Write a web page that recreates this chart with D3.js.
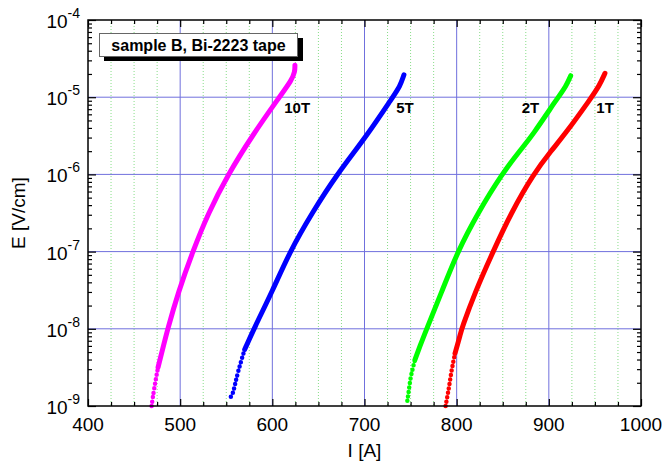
<!DOCTYPE html>
<html>
<head>
<meta charset="utf-8">
<script src="https://cdn.jsdelivr.net/npm/d3@7/dist/d3.min.js"></script>
<style>
  body { margin: 0; background: #fff; }
  svg { display: block; font-family: "Liberation Sans", Arial, sans-serif; }
</style>
</head>
<body>
<svg id="chart" width="665" height="466"></svg>
<script>
/* DATA */
const seriesNames = ['10T', '5T', '2T', '1T'];
const seriesColors = ['#ff00ff', '#0000ff', '#00ff00', '#ff0000'];

const current10T = [469, 471.6, 476, 480, 486.5, 498, 513.6, 530.5, 552, 577.6, 607.5, 621, 624.5, 624.5];
const field10T   = [1.0e-9, 1.66e-9, 3.16e-9, 4.9e-9, 1.0e-8, 3.0e-8, 1.0e-7, 3.16e-7, 1.0e-6, 3.1e-6, 1.0e-5, 1.66e-5, 2.14e-5, 2.6e-5];

const current5T = [555, 557.5, 562, 570, 580, 600.5, 619, 643, 670, 702, 730.5, 738.5, 742.8];
const field5T   = [1.32e-9, 1.45e-9, 2.63e-9, 5.4e-9, 1.0e-8, 3.16e-8, 1.0e-7, 3.16e-7, 1.0e-6, 3.1e-6, 1.0e-5, 1.38e-5, 1.95e-5];

const current2T = [746.5, 748.2, 750, 754.8, 760, 767.5, 783.7, 801, 823, 848.8, 869.5, 881.4, 910, 918.6, 923.7];
const field2T   = [1.17e-9, 1.62e-9, 2.4e-9, 4.0e-9, 5.9e-9, 1.0e-8, 3.0e-8, 1.0e-7, 3.16e-7, 1.0e-6, 2.1e-6, 3.1e-6, 1.0e-5, 1.38e-5, 1.9e-5];

const current1T = [788, 789.8, 791.7, 794.5, 798.2, 804.3, 805.4, 820, 839.5, 859, 883, 903.5, 915.7, 946.5, 954.8, 960.9];
const field1T   = [1.0e-9, 1.32e-9, 1.74e-9, 2.95e-9, 4.8e-9, 8.7e-9, 1.0e-8, 3.0e-8, 1.0e-7, 3.16e-7, 1.0e-6, 2.1e-6, 3.1e-6, 1.0e-5, 1.41e-5, 2.04e-5];

const xTicks = [400, 500, 600, 700, 800, 900, 1000];
const yDecades = [-9, -8, -7, -6, -5, -4];
const legendText = 'sample B, Bi-2223 tape';

/* LAYOUT */
const plotL = 88, plotR = 641, plotT = 20, plotB = 406;
const font = 19;

const svg = d3.select('#chart');

const x = d3.scaleLinear().domain([400, 1000]).range([plotL, plotR]);
const y = d3.scaleLog().domain([1e-9, 1e-4]).range([plotB, plotT]);

/* GRID */
const minorX = d3.range(400, 1001, 25).filter(d => d % 100 != 0);
svg.append('g').selectAll('line').data(minorX).join('line')
  .attr('x1', d => x(d)).attr('x2', d => x(d))
  .attr('y1', plotT).attr('y2', plotB)
  .attr('stroke', '#88dd88')
  .attr('stroke-width', 1)
  .attr('stroke-dasharray', '1,2');

svg.append('g').selectAll('line').data(xTicks.slice(1, -1)).join('line')
  .attr('x1', d => x(d)).attr('x2', d => x(d))
  .attr('y1', plotT).attr('y2', plotB)
  .attr('stroke', '#7070dd')
  .attr('stroke-width', 1);

svg.append('g').selectAll('line').data(yDecades.slice(1, -1)).join('line')
  .attr('x1', plotL).attr('x2', plotR)
  .attr('y1', d => y(Math.pow(10, d))).attr('y2', d => y(Math.pow(10, d)))
  .attr('stroke', '#7070dd')
  .attr('stroke-width', 1);

/* AXES - ticks pointing inside on all four sides */
const minorY = [];
yDecades.slice(0, -1).forEach(function(d){
  for (let k = 2; k <= 9; k++) minorY.push(k * Math.pow(10, d));
});
const majorY = yDecades.map(d => Math.pow(10, d));

function tickAxis(axis, transform){
  const g = svg.append('g').attr('transform', transform).call(axis);
  g.select('.domain').remove();
  g.selectAll('text').remove();
  g.selectAll('line').attr('stroke', '#000').attr('stroke-width', 1.2);
}
tickAxis(d3.axisBottom(x).tickValues(minorX).tickSize(-4).tickSizeOuter(0), `translate(0,${plotB})`);
tickAxis(d3.axisBottom(x).tickValues(xTicks).tickSize(-7).tickSizeOuter(0), `translate(0,${plotB})`);
tickAxis(d3.axisTop(x).tickValues(minorX).tickSize(-4).tickSizeOuter(0), `translate(0,${plotT})`);
tickAxis(d3.axisTop(x).tickValues(xTicks).tickSize(-7).tickSizeOuter(0), `translate(0,${plotT})`);
tickAxis(d3.axisLeft(y).tickValues(minorY).tickSize(-4).tickSizeOuter(0), `translate(${plotL},0)`);
tickAxis(d3.axisLeft(y).tickValues(majorY).tickSize(-8).tickSizeOuter(0), `translate(${plotL},0)`);
tickAxis(d3.axisRight(y).tickValues(minorY).tickSize(-4).tickSizeOuter(0), `translate(${plotR},0)`);
tickAxis(d3.axisRight(y).tickValues(majorY).tickSize(-8).tickSizeOuter(0), `translate(${plotR},0)`);

/* TICK LABELS */
svg.append('g').selectAll('text').data(xTicks).join('text')
  .attr('x', d => x(d))
  .attr('y', 431)
  .attr('text-anchor', 'middle')
  .attr('font-size', font)
  .text(d => d);

const yLab = svg.append('g').selectAll('text').data(yDecades).join('text')
  .attr('x', 80)
  .attr('y', d => y(Math.pow(10, d)) + 8)
  .attr('text-anchor', 'end')
  .attr('font-size', font);
yLab.append('tspan').text('10');
yLab.append('tspan').attr('dy', -10).attr('font-size', 14).text(d => d);

/* AXIS TITLES */
svg.append('text')
  .attr('x', (plotL + plotR) / 2).attr('y', 457)
  .attr('text-anchor', 'middle')
  .attr('font-size', font)
  .text('I [A]');
svg.append('text')
  .attr('transform', `translate(25,${(plotT + plotB) / 2}) rotate(-90)`)
  .attr('text-anchor', 'middle')
  .attr('font-size', font)
  .text('E [V/cm]');

/* CURVES */
const allSeries = [
  {I: current10T, E: field10T},
  {I: current5T, E: field5T},
  {I: current2T, E: field2T},
  {I: current1T, E: field1T}
];
const line = d3.line()
  .x(d => x(d[0]))
  .y(d => y(d[1]))
  .curve(d3.curveBasis);

allSeries.forEach(function(s, n){
  const pts = s.I.map((v, k) => [v, s.E[k]]);
  // split where the measured points thin out
  const cut = pts.findIndex(p => p[1] >= 3e-9);
  const low = pts.slice(0, cut + 1);
  const high = pts.slice(cut);
  svg.append('path')
    .attr('d', line(low))
    .attr('fill', 'none')
    .attr('stroke', seriesColors[n])
    .attr('stroke-width', 4.5)
    .attr('stroke-linecap', 'round')
    .attr('stroke-dasharray', '0,4.5');
  svg.append('path')
    .attr('d', line(high))
    .attr('fill', 'none')
    .attr('stroke', seriesColors[n])
    .attr('stroke-width', 5)
    .attr('stroke-linecap', 'round');
});

/* CURVE LABELS */
const labelI = [627, 744, 880, 961];
svg.append('g').selectAll('text').data(seriesNames).join('text')
  .attr('x', (d, k) => x(labelI[k]))
  .attr('y', 113)
  .attr('text-anchor', 'middle')
  .attr('font-size', 15)
  .attr('font-weight', 'bold')
  .text(d => d);

/* FRAME */
svg.append('rect')
  .attr('x', plotL).attr('y', plotT)
  .attr('width', plotR - plotL).attr('height', plotB - plotT)
  .attr('fill', 'none')
  .attr('stroke', '#000')
  .attr('stroke-width', 1.5);

/* LEGEND BOX */
svg.append('rect')
  .attr('x', 104).attr('y', 38).attr('width', 199).attr('height', 23)
  .attr('fill', '#000');
svg.append('rect')
  .attr('x', 99.5).attr('y', 33.5).attr('width', 198).attr('height', 23)
  .attr('fill', '#fff')
  .attr('stroke', '#666')
  .attr('stroke-width', 1);
svg.append('text')
  .attr('x', 198.5).attr('y', 50.5)
  .attr('text-anchor', 'middle')
  .attr('font-size', 16)
  .attr('font-weight', 'bold')
  .text(legendText);
</script>
</body>
</html>
